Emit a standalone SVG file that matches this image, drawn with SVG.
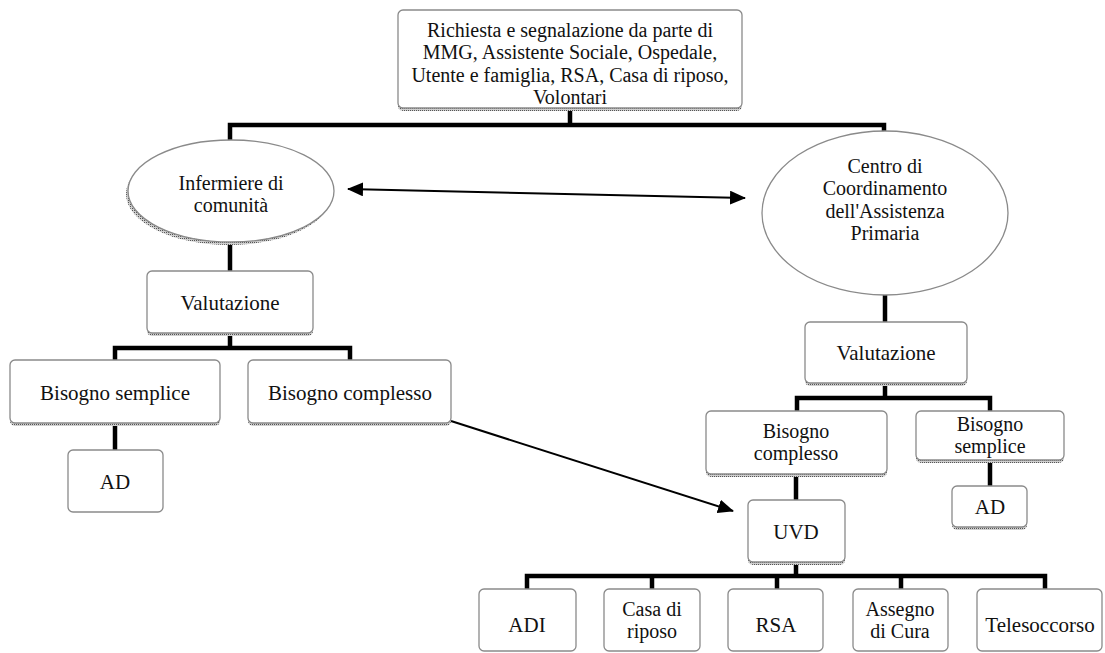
<svg xmlns="http://www.w3.org/2000/svg" width="1105" height="653" viewBox="0 0 1105 653">
<style>
text{font-family:"Liberation Serif","Times New Roman",serif;font-size:21px;fill:#111;text-anchor:middle}
text.m{font-size:20px}
.box{fill:#fff;stroke:#8a8a8a;stroke-width:1.3}
.shd{fill:url(#dots)}
.tree{stroke:#000;stroke-width:4.5;fill:none;stroke-linecap:square}
.arr{stroke:#000;stroke-width:2;fill:none}
</style>
<defs>
<pattern id="dots" width="2" height="2" patternUnits="userSpaceOnUse">
<rect width="2" height="2" fill="#cfcfcf"/>
<rect width="1" height="1" fill="#555"/>
</pattern>
<marker id="ah" viewBox="0 0 16 14" refX="15" refY="7" markerWidth="16" markerHeight="14" markerUnits="userSpaceOnUse" orient="auto-start-reverse">
<path d="M0,0 L16,7 L0,14 Z" fill="#000"/>
</marker>
</defs>

<g id="connectors">
<path class="tree" d="M570,108 V125 M230,125 H884 M230,125 V141 M884,125 V132"/>
<path class="tree" d="M230,242 V271"/>
<path class="tree" d="M230,333 V348 M115,348 H350 M115,348 V360 M350,348 V360"/>
<path class="tree" d="M115,423 V450"/>
<path class="tree" d="M885,295 V322"/>
<path class="tree" d="M885,383 V398 M797,398 H990 M797,398 V411 M990,398 V411"/>
<path class="tree" d="M990,460 V486"/>
<path class="tree" d="M796,474 V500"/>
<path class="tree" d="M796,562 V576 M527,576 H1045 M527,576 V589 M652,576 V589 M777,576 V589 M901,576 V589 M1045,576 V589"/>
<line class="arr" x1="348" y1="189" x2="745" y2="198" marker-start="url(#ah)" marker-end="url(#ah)"/>
<line class="arr" x1="451" y1="421" x2="733" y2="511" marker-end="url(#ah)"/>
</g>

<g id="n-richiesta">
<rect class="shd" x="398" y="13" width="344" height="98" rx="5"/>
<rect class="box" x="398" y="10" width="344" height="98" rx="5"/>
<text class="m" x="570" y="37">Richiesta e segnalazione da parte di</text>
<text class="m" x="570" y="59.3">MMG, Assistente Sociale, Ospedale,</text>
<text class="m" x="570" y="81.6">Utente e famiglia, RSA, Casa di riposo,</text>
<text class="m" x="570" y="103.9">Volontari</text>
</g>

<g id="n-infermiere">
<ellipse class="shd" cx="229" cy="194" rx="103" ry="51"/>
<ellipse class="box" cx="231" cy="191" rx="103" ry="51"/>
<text class="m" x="231" y="190">Infermiere di</text>
<text class="m" x="231" y="212.3">comunità</text>
</g>

<g id="n-centro">
<ellipse class="box" cx="885" cy="213" rx="123" ry="82"/>
<text class="m" x="885" y="173">Centro di</text>
<text class="m" x="885" y="195.3">Coordinamento</text>
<text class="m" x="885" y="217.6">dell'Assistenza</text>
<text class="m" x="885" y="239.9">Primaria</text>
</g>

<g id="n-valutazione-l">
<rect class="shd" x="147" y="274" width="166" height="62" rx="5"/>
<rect class="box" x="147" y="271" width="166" height="62" rx="5"/>
<text x="230" y="310">Valutazione</text>
</g>

<g id="n-semplice-l">
<rect class="shd" x="10" y="363" width="210" height="63" rx="5"/>
<rect class="box" x="10" y="360" width="210" height="63" rx="5"/>
<text x="115" y="400">Bisogno semplice</text>
</g>

<g id="n-complesso-l">
<rect class="shd" x="248" y="363" width="203" height="63" rx="5"/>
<rect class="box" x="248" y="360" width="203" height="63" rx="5"/>
<text x="350" y="400">Bisogno complesso</text>
</g>

<g id="n-ad-l">
<rect class="box" x="68" y="450" width="95" height="62" rx="5"/>
<text x="115" y="489">AD</text>
</g>

<g id="n-valutazione-r">
<rect class="shd" x="805" y="325" width="162" height="61" rx="5"/>
<rect class="box" x="805" y="322" width="162" height="61" rx="5"/>
<text x="886" y="360">Valutazione</text>
</g>

<g id="n-complesso-r">
<rect class="shd" x="706" y="414" width="181" height="63" rx="5"/>
<rect class="box" x="706" y="411" width="181" height="63" rx="5"/>
<text class="m" x="796" y="438">Bisogno</text>
<text class="m" x="796" y="460.3">complesso</text>
</g>

<g id="n-semplice-r">
<rect class="shd" x="916" y="414" width="148" height="49" rx="5"/>
<rect class="box" x="916" y="411" width="148" height="49" rx="5"/>
<text class="m" x="990" y="431">Bisogno</text>
<text class="m" x="990" y="453.3">semplice</text>
</g>

<g id="n-ad-r">
<rect class="shd" x="952" y="489" width="75" height="41" rx="5"/>
<rect class="box" x="952" y="486" width="75" height="41" rx="5"/>
<text x="990" y="514">AD</text>
</g>

<g id="n-uvd">
<rect class="shd" x="748" y="503" width="97" height="62" rx="5"/>
<rect class="box" x="748" y="500" width="97" height="62" rx="5"/>
<text x="796" y="539">UVD</text>
</g>

<g id="n-adi">
<rect class="box" x="479" y="589" width="97" height="62" rx="5"/>
<text x="527" y="632">ADI</text>
</g>

<g id="n-casa">
<rect class="box" x="604" y="589" width="96" height="62" rx="5"/>
<text class="m" x="652" y="616">Casa di</text>
<text class="m" x="652" y="638.3">riposo</text>
</g>

<g id="n-rsa">
<rect class="box" x="728" y="589" width="95" height="62" rx="5"/>
<text x="776" y="632">RSA</text>
</g>

<g id="n-assegno">
<rect class="box" x="853" y="589" width="95" height="62" rx="5"/>
<text class="m" x="900" y="616">Assegno</text>
<text class="m" x="900" y="638.3">di Cura</text>
</g>

<g id="n-telesoccorso">
<rect class="box" x="977" y="589" width="125" height="62" rx="5"/>
<text x="1040" y="632">Telesoccorso</text>
</g>
</svg>
